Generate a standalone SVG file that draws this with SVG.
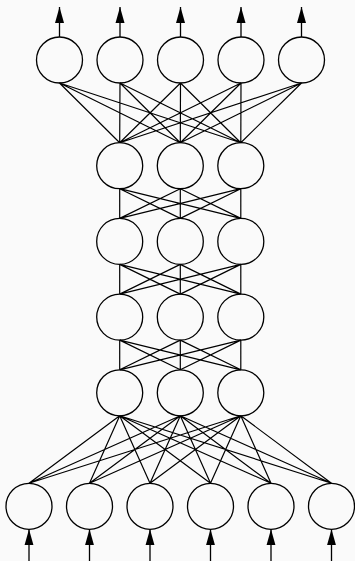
<svg xmlns="http://www.w3.org/2000/svg" width="355" height="561" viewBox="0 0 355 561">
<style>
.n{fill:none;stroke:#000;stroke-width:1.3}
.e{stroke:#000;stroke-width:1.2;fill:none}
.a{stroke:#000;stroke-width:1.3;fill:none}
</style>
<defs>
<marker id="ah" viewBox="0 0 16 10" refX="16" refY="5" markerWidth="16" markerHeight="10" markerUnits="userSpaceOnUse" orient="auto">
<path d="M0,0.5 L16,5 L0,9.5 Z" fill="#000"/>
</marker>
</defs>
<rect width="355" height="561" fill="#fafafa"/>
<g id="connectors">
<!-- top layer (y bottom 83) to hidden1 top (142.7) -->
<path class="e" d="M59.5,83L119.7,142.7M59.5,83L180.3,142.7M59.5,83L240.8,142.7
M120,83L119.7,142.7M120,83L180.3,142.7M120,83L240.8,142.7
M180.5,83L119.7,142.7M180.5,83L180.3,142.7M180.5,83L240.8,142.7
M241,83L119.7,142.7M241,83L180.3,142.7M241,83L240.8,142.7
M301.5,83L119.7,142.7M301.5,83L180.3,142.7M301.5,83L240.8,142.7"/>
<!-- hidden1 to hidden2 -->
<path class="e" d="M119.7,188.7L119.7,218.4M119.7,188.7L180.3,218.4M119.7,188.7L240.8,218.4
M180.3,188.7L119.7,218.4M180.3,188.7L180.3,218.4M180.3,188.7L240.8,218.4
M240.8,188.7L119.7,218.4M240.8,188.7L180.3,218.4M240.8,188.7L240.8,218.4"/>
<!-- hidden2 to hidden3 -->
<path class="e" d="M119.7,264.4L119.7,294.1M119.7,264.4L180.3,294.1M119.7,264.4L240.8,294.1
M180.3,264.4L119.7,294.1M180.3,264.4L180.3,294.1M180.3,264.4L240.8,294.1
M240.8,264.4L119.7,294.1M240.8,264.4L180.3,294.1M240.8,264.4L240.8,294.1"/>
<!-- hidden3 to hidden4 -->
<path class="e" d="M119.7,340.1L119.7,369.8M119.7,340.1L180.3,369.8M119.7,340.1L240.8,369.8
M180.3,340.1L119.7,369.8M180.3,340.1L180.3,369.8M180.3,340.1L240.8,369.8
M240.8,340.1L119.7,369.8M240.8,340.1L180.3,369.8M240.8,340.1L240.8,369.8"/>
<!-- hidden4 bottom (415.8) to bottom layer top (483.3) -->
<path class="e" d="M119.7,415.8L29,483.3M119.7,415.8L89.5,483.3M119.7,415.8L150,483.3M119.7,415.8L210.5,483.3M119.7,415.8L271,483.3M119.7,415.8L331.5,483.3
M180.3,415.8L29,483.3M180.3,415.8L89.5,483.3M180.3,415.8L150,483.3M180.3,415.8L210.5,483.3M180.3,415.8L271,483.3M180.3,415.8L331.5,483.3
M240.8,415.8L29,483.3M240.8,415.8L89.5,483.3M240.8,415.8L150,483.3M240.8,415.8L210.5,483.3M240.8,415.8L271,483.3M240.8,415.8L331.5,483.3"/>
<!-- output arrows -->
<path class="a" marker-end="url(#ah)" d="M59.5,37L59.5,7"/>
<path class="a" marker-end="url(#ah)" d="M120,37L120,7"/>
<path class="a" marker-end="url(#ah)" d="M180.5,37L180.5,7"/>
<path class="a" marker-end="url(#ah)" d="M241,37L241,7"/>
<path class="a" marker-end="url(#ah)" d="M301.5,37L301.5,7"/>
<!-- input arrows -->
<path class="a" marker-end="url(#ah)" d="M29,561L29,529.3"/>
<path class="a" marker-end="url(#ah)" d="M89.5,561L89.5,529.3"/>
<path class="a" marker-end="url(#ah)" d="M150,561L150,529.3"/>
<path class="a" marker-end="url(#ah)" d="M210.5,561L210.5,529.3"/>
<path class="a" marker-end="url(#ah)" d="M271,561L271,529.3"/>
<path class="a" marker-end="url(#ah)" d="M331.5,561L331.5,529.3"/>
</g>
<g id="out1"><circle class="n" cx="59.5" cy="60" r="23"/></g>
<g id="out2"><circle class="n" cx="120" cy="60" r="23"/></g>
<g id="out3"><circle class="n" cx="180.5" cy="60" r="23"/></g>
<g id="out4"><circle class="n" cx="241" cy="60" r="23"/></g>
<g id="out5"><circle class="n" cx="301.5" cy="60" r="23"/></g>
<g id="h1a"><circle class="n" cx="119.7" cy="165.7" r="23"/></g>
<g id="h1b"><circle class="n" cx="180.3" cy="165.7" r="23"/></g>
<g id="h1c"><circle class="n" cx="240.8" cy="165.7" r="23"/></g>
<g id="h2a"><circle class="n" cx="119.7" cy="241.4" r="23"/></g>
<g id="h2b"><circle class="n" cx="180.3" cy="241.4" r="23"/></g>
<g id="h2c"><circle class="n" cx="240.8" cy="241.4" r="23"/></g>
<g id="h3a"><circle class="n" cx="119.7" cy="317.1" r="23"/></g>
<g id="h3b"><circle class="n" cx="180.3" cy="317.1" r="23"/></g>
<g id="h3c"><circle class="n" cx="240.8" cy="317.1" r="23"/></g>
<g id="h4a"><circle class="n" cx="119.7" cy="392.8" r="23"/></g>
<g id="h4b"><circle class="n" cx="180.3" cy="392.8" r="23"/></g>
<g id="h4c"><circle class="n" cx="240.8" cy="392.8" r="23"/></g>
<g id="in1"><circle class="n" cx="29" cy="506.3" r="23"/></g>
<g id="in2"><circle class="n" cx="89.5" cy="506.3" r="23"/></g>
<g id="in3"><circle class="n" cx="150" cy="506.3" r="23"/></g>
<g id="in4"><circle class="n" cx="210.5" cy="506.3" r="23"/></g>
<g id="in5"><circle class="n" cx="271" cy="506.3" r="23"/></g>
<g id="in6"><circle class="n" cx="331.5" cy="506.3" r="23"/></g>
</svg>
